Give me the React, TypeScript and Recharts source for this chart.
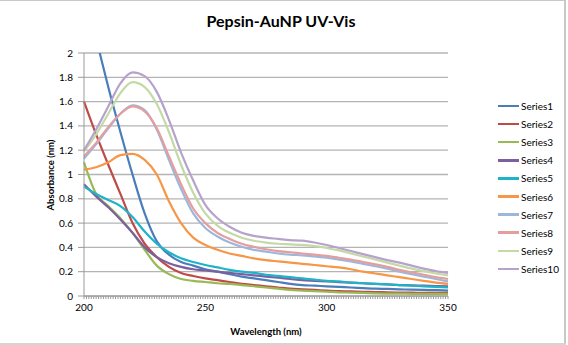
import { LineChart, Line, XAxis, YAxis, CartesianGrid, Legend } from 'recharts'

const WAVELENGTHS = [
  200, 205, 210, 215, 220, 225, 230, 235, 240, 245, 250, 255, 260, 265, 270, 275,
  280, 285, 290, 295, 300, 305, 310, 315, 320, 325, 330, 335, 340, 345, 350,
]

const S1 = [2.5, 2.12, 1.72, 1.35, 1.0, 0.68, 0.45, 0.34, 0.28, 0.25, 0.22, 0.2, 0.18, 0.16, 0.145, 0.13, 0.115, 0.1, 0.09, 0.085, 0.08, 0.075, 0.07, 0.065, 0.06, 0.058, 0.055, 0.052, 0.05, 0.048, 0.045]
const S2 = [1.6, 1.33, 1.08, 0.84, 0.6, 0.43, 0.32, 0.24, 0.19, 0.165, 0.145, 0.13, 0.115, 0.1, 0.09, 0.08, 0.07, 0.06, 0.055, 0.05, 0.045, 0.04, 0.038, 0.035, 0.033, 0.03, 0.028, 0.027, 0.026, 0.025, 0.025]
const S3 = [1.1, 0.84, 0.74, 0.64, 0.52, 0.38, 0.25, 0.18, 0.14, 0.125, 0.115, 0.105, 0.1, 0.09, 0.08, 0.07, 0.06, 0.05, 0.045, 0.04, 0.035, 0.03, 0.028, 0.025, 0.022, 0.02, 0.02, 0.018, 0.018, 0.018, 0.018]
const S4 = [0.92, 0.82, 0.73, 0.63, 0.52, 0.4, 0.32, 0.27, 0.24, 0.22, 0.21, 0.2, 0.19, 0.18, 0.17, 0.16, 0.15, 0.14, 0.13, 0.125, 0.12, 0.115, 0.11, 0.105, 0.1, 0.095, 0.09, 0.088, 0.085, 0.082, 0.08]
const S5 = [0.9, 0.84, 0.79, 0.74, 0.65, 0.53, 0.43, 0.36, 0.31, 0.28, 0.255, 0.235, 0.215, 0.2, 0.19, 0.175, 0.165, 0.155, 0.145, 0.135, 0.125, 0.12, 0.11, 0.105, 0.1, 0.095, 0.09, 0.085, 0.08, 0.075, 0.07]
const S6 = [1.04, 1.06, 1.1, 1.16, 1.17, 1.12, 1.0, 0.78, 0.6, 0.48, 0.42, 0.38, 0.35, 0.33, 0.31, 0.295, 0.285, 0.275, 0.265, 0.255, 0.245, 0.235, 0.22, 0.2, 0.185, 0.17, 0.155, 0.14, 0.125, 0.11, 0.1]
const S7 = [1.13, 1.25, 1.38, 1.5, 1.57, 1.53, 1.37, 1.12, 0.88, 0.68, 0.56, 0.49, 0.44, 0.405, 0.38, 0.365, 0.35, 0.34, 0.335, 0.325, 0.315, 0.3, 0.285, 0.265, 0.245, 0.225, 0.2, 0.18, 0.16, 0.14, 0.12]
const S8 = [1.15, 1.26, 1.39, 1.5, 1.56, 1.52, 1.38, 1.15, 0.92, 0.72, 0.6, 0.52, 0.47, 0.43, 0.405, 0.385, 0.37, 0.36, 0.35, 0.34, 0.33, 0.315, 0.3, 0.28, 0.26, 0.24, 0.215, 0.195, 0.175, 0.155, 0.14]
const S9 = [1.19, 1.33, 1.5, 1.67, 1.76, 1.72, 1.58, 1.35, 1.08, 0.85, 0.68, 0.58, 0.52, 0.48, 0.455, 0.44, 0.43, 0.425, 0.42, 0.41, 0.395, 0.375, 0.35, 0.325, 0.3, 0.275, 0.25, 0.225, 0.205, 0.185, 0.17]
const S10 = [1.2, 1.37, 1.56, 1.75, 1.84, 1.81, 1.68, 1.45, 1.18, 0.95, 0.75, 0.64, 0.57, 0.52, 0.495, 0.48, 0.47, 0.46, 0.455, 0.44, 0.42, 0.395, 0.37, 0.345, 0.32, 0.295, 0.275, 0.25, 0.225, 0.205, 0.19]

const Y_TICKS = [0, 0.2, 0.4, 0.6, 0.8, 1, 1.2, 1.4, 1.6, 1.8, 2]
const X_LABELS = [200, 250, 300, 350]
// minor tick every nm on the x axis, labels only on X_LABELS
const X_TICKS = Array.from({ length: 151 }, (_, i) => 200 + i)

const SERIES = [
  { key: 's1', name: 'Series1', color: '#4a7ebb', values: S1 },
  { key: 's2', name: 'Series2', color: '#be4b48', values: S2 },
  { key: 's3', name: 'Series3', color: '#98b954', values: S3 },
  { key: 's4', name: 'Series4', color: '#7d5fa0', values: S4 },
  { key: 's5', name: 'Series5', color: '#1fb3c8', values: S5 },
  { key: 's6', name: 'Series6', color: '#f79646', values: S6 },
  { key: 's7', name: 'Series7', color: '#9cb7dc', values: S7 },
  { key: 's8', name: 'Series8', color: '#e49e9d', values: S8 },
  { key: 's9', name: 'Series9', color: '#c3daa5', values: S9 },
  { key: 's10', name: 'Series10', color: '#b6a3cc', values: S10 },
]

const data = WAVELENGTHS.map((w, i) => {
  const row: Record<string, number> = { w }
  SERIES.forEach(s => { row[s.key] = s.values[i] })
  return row
})

const FONT = 'Lato, "Liberation Sans", sans-serif'

const XTick = ({ x, y, payload }: any) => {
  if (!X_LABELS.includes(payload.value)) return null
  return (
    <text x={x} y={y + 8} textAnchor="middle" fontSize={10} fill="#000" fontFamily={FONT}>
      {payload.value}
    </text>
  )
}

const LegendBox = () => (
  <div style={{ fontFamily: FONT, fontSize: 10, color: '#000' }}>
    {SERIES.map(s => (
      <div key={s.key} style={{ display: 'flex', alignItems: 'center', height: 18.1 }}>
        <span style={{ display: 'inline-block', width: 21, height: 2.5, background: s.color, marginRight: 2 }} />
        {s.name}
      </div>
    ))}
  </div>
)

export default function App() {
  return (
    <div style={{ position: 'absolute', left: 0, top: 0, width: 568, height: 345, background: '#fff', fontFamily: FONT }}>
      <div style={{ position: 'absolute', left: 0, top: 0, width: 565, height: 1, background: '#c8c8c8' }} />
      <div style={{ position: 'absolute', left: 564, top: 0, width: 2, height: 345, background: '#c8c8c8' }} />
      <div style={{ position: 'absolute', left: 0, top: 343, width: 566, height: 2, background: '#d4d4d4' }} />
      <div style={{ position: 'absolute', left: 0, top: 11, width: 566, textAlign: 'center', fontWeight: 'bold', fontSize: 16 }}>
        <span style={{ position: 'relative', left: -2 }}>Pepsin-AuNP UV-Vis</span>
      </div>
      <div style={{ position: 'absolute', left: 84, top: 326, width: 364, textAlign: 'center', fontWeight: 'bold', fontSize: 9.5 }}>
        Wavelength (nm)
      </div>
      <div style={{ position: 'absolute', left: 50, top: 174.5, width: 0, height: 0 }}>
        <div style={{ position: 'absolute', transform: 'translate(-50%, -50%) rotate(-90deg)', whiteSpace: 'nowrap', fontWeight: 'bold', fontSize: 9.5 }}>
          Absorbance (nm)
        </div>
      </div>
      <LineChart width={568} height={345} data={data} margin={{ top: 53, right: 50, left: 0, bottom: 0 }} style={{ position: 'absolute', left: 0, top: 0 }}>
        <CartesianGrid horizontal vertical={false} stroke="#b4b4b4" strokeWidth={1.3} />
        <XAxis
          dataKey="w"
          type="number"
          domain={[200, 350]}
          ticks={X_TICKS}
          interval={0}
          tick={<XTick />}
          tickSize={3}
          tickMargin={4}
          stroke="#9a9a9a"
          height={49}
        />
        <YAxis
          type="number"
          domain={[0, 2]}
          ticks={Y_TICKS}
          allowDataOverflow
          width={84}
          tickSize={6}
          tickMargin={5}
          stroke="#9a9a9a"
          tick={{ fontSize: 10, fill: '#000', fontFamily: FONT }}
        />
        <Legend
          layout="vertical"
          align="right"
          verticalAlign="top"
          content={<LegendBox />}
          wrapperStyle={{ left: 498, top: 97, width: 70 }}
        />
        {SERIES.map(s => (
          <Line
            key={s.key}
            type="monotone"
            dataKey={s.key}
            name={s.name}
            stroke={s.color}
            strokeWidth={2.2}
            dot={false}
            isAnimationActive={false}
          />
        ))}
      </LineChart>
    </div>
  )
}
